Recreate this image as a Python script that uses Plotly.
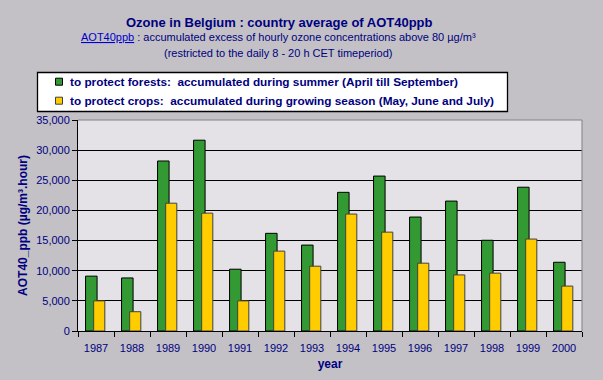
import plotly.graph_objects as go

years = [1987, 1988, 1989, 1990, 1991, 1992, 1993,
         1994, 1995, 1996, 1997, 1998, 1999, 2000]
forests = [9100, 8800, 28200, 31650, 10250, 16200, 14250,
           23000, 25700, 18900, 21550, 15050, 23850, 11400]
crops = [5000, 3200, 21200, 19550, 5000, 13250, 10750,
         19400, 16400, 11250, 9300, 9600, 15250, 7450]
y_ticks = [0, 5000, 10000, 15000, 20000, 25000, 30000, 35000]

forest_name = "to protect forests:  accumulated during summer (April till September)"
crop_name = "to protect crops:  accumulated during growing season (May, June and July)"

NAVY = "#000080"
FONT = "Liberation Sans, Arial, sans-serif"
BG = "#C3C1C5"
GREEN = "#339933"
YELLOW = "#FFCC00"

fig = go.Figure()
fig.add_trace(go.Bar(
    x=years, y=forests, name=forest_name,
    marker=dict(color=GREEN, line=dict(color="#000000", width=1)),
    offset=-0.29, width=0.32, showlegend=False,
))
fig.add_trace(go.Bar(
    x=years, y=crops, name=crop_name,
    marker=dict(color=YELLOW, line=dict(color="#404040", width=1)),
    offset=-0.065, width=0.31, showlegend=False,
))

L, R, T, B = 78, 21, 120, 49
W, H = 603, 380
pw, ph = W - L - R, H - T - B


def px(xp):
    return (xp - L) / pw


def py(yp):
    return (H - B - yp) / ph


shapes = [
    dict(type="line", xref="paper", yref="paper", x0=0, x1=1, y0=1, y1=1,
         line=dict(color="#808080", width=1), layer="above"),
    dict(type="line", xref="paper", yref="paper", x0=1, x1=1, y0=0, y1=1,
         line=dict(color="#808080", width=1), layer="above"),
    # legend box
    dict(type="rect", xref="paper", yref="paper",
         x0=px(37.5), x1=px(507.5), y0=py(111.5), y1=py(72.5),
         fillcolor="#FFFFFF", line=dict(color="#000000", width=1.3), layer="above"),
]
annotations = [
    dict(text="<b>Ozone in Belgium : country average of AOT40ppb</b>",
         xref="paper", yref="paper", x=px(279), y=py(22),
         xanchor="center", yanchor="middle", showarrow=False,
         font=dict(family=FONT, size=13, color=NAVY)),
    dict(text="<span style='color:#0000CC'><u>AOT40ppb</u></span> : accumulated excess of hourly ozone concentrations above 80 µg/m³",
         xref="paper", yref="paper", x=px(278), y=py(37.5),
         xanchor="center", yanchor="middle", showarrow=False,
         font=dict(family=FONT, size=11, color=NAVY)),
    dict(text="(restricted to the daily 8 - 20 h CET timeperiod)",
         xref="paper", yref="paper", x=px(278), y=py(52.5),
         xanchor="center", yanchor="middle", showarrow=False,
         font=dict(family=FONT, size=11, color=NAVY)),
]
for name, color, border, yc in [(forest_name, GREEN, "#000000", 81.7),
                                 (crop_name, YELLOW, "#404040", 100.7)]:
    shapes.append(dict(type="rect", xref="paper", yref="paper",
                       x0=px(55.5), x1=px(62.5), y0=py(yc + 3.5), y1=py(yc - 3.5),
                       fillcolor=color, line=dict(color=border, width=1), layer="above"))
    annotations.append(dict(text="<b>" + name + "</b>", xref="paper", yref="paper",
                            x=px(67.5), y=py(yc), xanchor="left", yanchor="middle",
                            showarrow=False,
                            font=dict(family=FONT, size=11.8, color=NAVY)))

fig.update_layout(
    width=W, height=H,
    margin=dict(l=L, r=R, t=T, b=B, pad=0, autoexpand=False),
    paper_bgcolor=BG, plot_bgcolor="#E4E2E6",
    barmode="overlay",
    font=dict(family=FONT, color=NAVY, size=11),
    showlegend=False,
    xaxis=dict(
        range=[1986.5, 2000.5], tickvals=years, ticktext=[str(y) for y in years],
        ticks="outside", ticklen=7, tickcolor="rgba(0,0,0,0)",
        minor=dict(tick0=1986.5, dtick=1, ticks="outside", ticklen=5,
                   tickcolor="#000000", showgrid=False),
        showline=True, linecolor="#000000", linewidth=1,
        showgrid=False, zeroline=False,
        tickfont=dict(family=FONT, size=11, color=NAVY),
        title=dict(text="year", font=dict(family=FONT, size=12, color=NAVY, weight="bold"),
                   standoff=6),
    ),
    yaxis=dict(
        range=[0, 35000], tickvals=y_ticks,
        ticktext=[f"{v:,}" for v in y_ticks],
        ticks="outside", ticklen=5, tickcolor="#000000",
        showline=True, linecolor="#000000", linewidth=1,
        showgrid=True, gridcolor="#000000", gridwidth=1, zeroline=False,
        tickfont=dict(family=FONT, size=11, color=NAVY),
        title=dict(text="AOT40_ppb (µg/m³.hour)",
                   font=dict(family=FONT, size=12, color=NAVY, weight="bold"),
                   standoff=5),
    ),
    shapes=shapes,
    annotations=annotations,
)

fig.write_html(
    "out.html",
    config={"displayModeBar": False},
    post_script="document.body.style.margin='0';document.body.style.background='" + BG + "';",
)
